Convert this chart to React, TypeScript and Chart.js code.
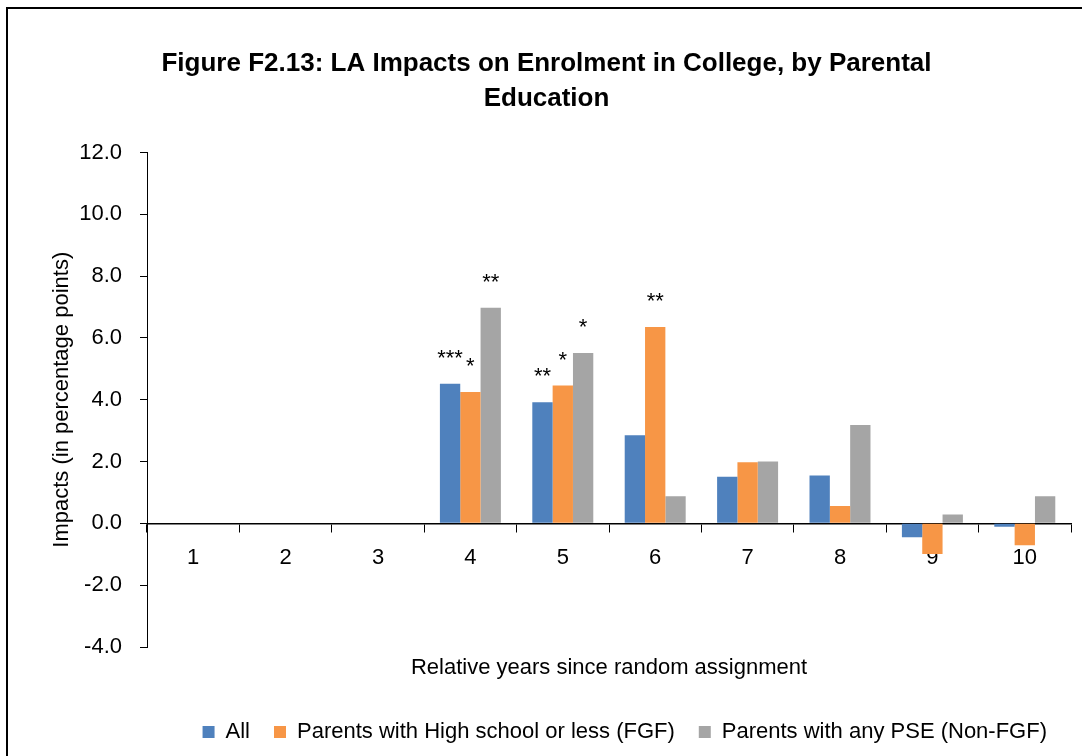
import React, { useEffect, useRef } from 'react';
import { Chart, registerables } from 'chart.js';

Chart.register(...registerables);

const titleLines = ['Figure F2.13: LA Impacts on Enrolment in College, by Parental', 'Education'];
const years = ['1', '2', '3', '4', '5', '6', '7', '8', '9', '10'];
const allImpacts = [null, null, null, 4.52, 3.92, 2.85, 1.51, 1.55, -0.45, -0.11];
const fgfImpacts = [null, null, null, 4.25, 4.46, 6.35, 1.98, 0.56, -0.99, -0.71];
const nonFgfImpacts = [null, null, null, 6.98, 5.51, 0.88, 2.0, 3.18, 0.29, 0.88];
const allStars = ['', '', '', '***', '**', '', '', '', '', ''];
const fgfStars = ['', '', '', '*', '*', '**', '', '', '', ''];
const nonFgfStars = ['', '', '', '**', '*', '', '', '', '', ''];
const seriesNames = ['All', 'Parents with High school or less (FGF)', 'Parents with any PSE (Non-FGF)'];
const seriesColors = ['#4F81BD', '#F79646', '#A5A5A5'];
const yTickValues = [-4, -2, 0, 2, 4, 6, 8, 10, 12];
const xAxisTitle = 'Relative years since random assignment';
const yAxisTitle = 'Impacts (in percentage points)';

const FONT = '"Liberation Sans", Arial, sans-serif';

const starsPlugin = {
  id: 'stars',
  afterDatasetsDraw(chart: any) {
    const starSets = [allStars, fgfStars, nonFgfStars];
    const ctx = chart.ctx;
    ctx.save();
    ctx.font = `22px ${FONT}`;
    ctx.fillStyle = '#000';
    ctx.textAlign = 'center';
    ctx.textBaseline = 'alphabetic';
    starSets.forEach((stars, di) => {
      const meta = chart.getDatasetMeta(di);
      stars.forEach((s, i) => {
        if (!s) return;
        const el = meta.data[i];
        if (!el) return;
        ctx.fillText(s, el.x, el.y - 19);
      });
    });
    ctx.restore();
  },
};

export default function App() {
  const ref = useRef<HTMLCanvasElement>(null);
  useEffect(() => {
    const canvas = ref.current;
    if (!canvas) return;
    const datasets = [allImpacts, fgfImpacts, nonFgfImpacts].map((d, i) => ({
      label: seriesNames[i],
      data: d,
      backgroundColor: seriesColors[i],
      borderWidth: 0,
      categoryPercentage: 0.66,
      barPercentage: 1.0,
    }));
    const chart = new Chart(canvas, {
      type: 'bar',
      data: { labels: years, datasets },
      plugins: [starsPlugin],
      options: {
        responsive: false,
        animation: false,
        devicePixelRatio: 1,
        layout: { padding: { left: 22, right: 11, top: 0, bottom: 3 } },
        plugins: {
          tooltip: { enabled: false },
          title: {
            display: true,
            text: titleLines,
            color: '#000',
            font: { family: FONT, size: 26, weight: 'bold', lineHeight: 1.346 },
            padding: { top: 46.5, bottom: 36 },
          },
          legend: {
            display: true,
            position: 'bottom',
            align: 'end',
            labels: {
              color: '#000',
              font: { family: FONT, size: 22 },
              boxWidth: 12,
              boxHeight: 12,
              padding: 24,
            },
          },
        },
        scales: {
          x: {
            type: 'category',
            position: { y: 0 } as any,
            offset: true,
            grid: {
              display: true,
              drawOnChartArea: false,
              drawTicks: true,
              tickLength: 8,
              color: '#000',
              lineWidth: 1,
              offset: true,
            },
            border: { display: true, color: '#000', width: 1.5 },
            ticks: {
              color: '#000',
              font: { family: FONT, size: 22 },
              padding: 13,
              maxRotation: 0,
            },
          },
          x2: {
            type: 'category',
            axis: 'x',
            position: 'bottom',
            grid: { display: false, drawTicks: false },
            border: { display: false },
            ticks: { display: false },
            title: {
              display: true,
              text: xAxisTitle,
              color: '#000',
              font: { family: FONT, size: 22 },
              padding: { top: 8, bottom: 15.6 },
            },
          },
          y: {
            type: 'linear',
            position: 'left',
            min: yTickValues[0],
            max: yTickValues[yTickValues.length - 1],
            afterFit(scale: any) {
              scale.width = 125;
            },
            afterBuildTicks(scale: any) {
              scale.ticks = yTickValues.map((v) => ({ value: v }));
            },
            grid: {
              display: true,
              drawOnChartArea: false,
              drawTicks: true,
              tickLength: 7,
              color: '#000',
              lineWidth: 1,
            },
            border: { display: true, color: '#000', width: 1 },
            ticks: {
              color: '#000',
              font: { family: FONT, size: 22 },
              padding: 18,
              callback: (v: any) => Number(v).toFixed(1),
            },
            title: {
              display: true,
              text: yAxisTitle,
              color: '#000',
              font: { family: FONT, size: 22 },
              padding: { top: 26.8, bottom: 0 },
            },
          },
        },
      },
    } as any);
    return () => chart.destroy();
  }, []);

  return (
    <div style={{ position: 'fixed', left: 0, top: 0, width: 1082, height: 756, background: '#fff', overflow: 'hidden' }}>
      <div
        style={{
          position: 'absolute',
          left: 6,
          top: 7,
          width: 1200,
          height: 900,
          borderLeft: '2px solid #000',
          borderTop: '2px solid #000',
          boxSizing: 'border-box',
        }}
      />
      <canvas
        ref={ref}
        width={1082}
        height={756}
        style={{ position: 'absolute', left: 0, top: 0, width: 1082, height: 756 }}
      />
    </div>
  );
}
